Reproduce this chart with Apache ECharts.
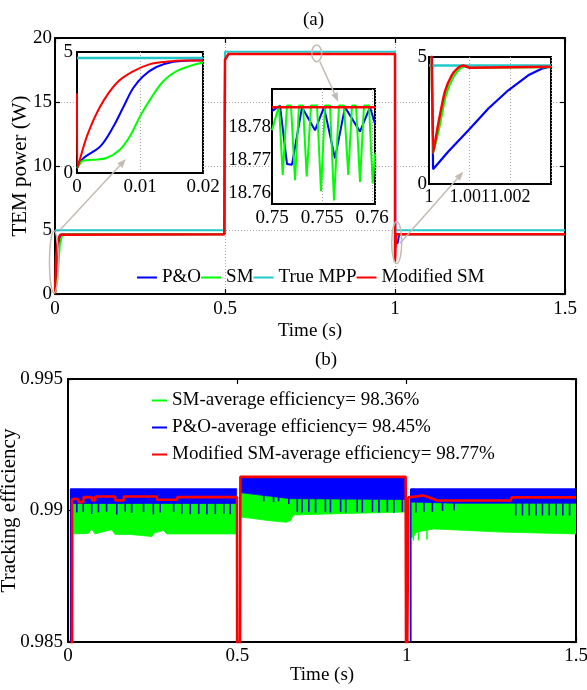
<!DOCTYPE html>
<html><head><meta charset="utf-8">
<script src="https://cdn.jsdelivr.net/npm/echarts@6/dist/echarts.min.js"></script>
<style>html,body{margin:0;padding:0;background:#fff}#c{width:587px;height:690px}</style>
</head><body><div id="c"></div><script>
// ---------------- DATA ----------------
// (a) main plot  [time s, power W]
const legendA = ['P&O', 'SM', 'True MPP', 'Modified SM'];
const mainPO  = [[0,0],[0.006,2.5],[0.012,4.3],[0.02,4.66],[0.498,4.66],[0.5,18.3],[0.51,18.75],[1.0,18.75],[1.001,3.9],[1.008,4.0],[1.012,4.66],[1.5,4.66]];
const mainSM  = [[0,0],[0.008,1.5],[0.014,3.8],[0.02,4.5],[0.025,4.66],[0.498,4.66],[0.5,18.3],[0.51,18.75],[1.0,18.75],[1.0,4.66],[1.5,4.66]];
const mainMPP = [[0,4.98],[0.5,4.98],[0.5,18.93],[1,18.93],[1,4.98],[1.5,4.98]];
const mainMSM = [[0,0],[0.003,2.8],[0.008,4.2],[0.015,4.62],[0.02,4.66],[0.498,4.66],[0.5,18.3],[0.51,18.75],[1.0,18.75],[1.0,2.5],[1.003,4.66],[1.5,4.66]];
// inset 1 (0 - 0.02 s)
const in1PO  = [[0,0.2],[0.00105,0.62],[0.0037,1.1],[0.0058,1.93],[0.0074,2.75],[0.0089,3.5],[0.0105,4.0],[0.0126,4.38],[0.0153,4.6],[0.0179,4.65],[0.02,4.66]];
const in1SM  = [[0,0.2],[0.00105,0.52],[0.0026,0.55],[0.0047,0.62],[0.0068,0.96],[0.0084,1.52],[0.01,2.34],[0.0116,3.03],[0.0137,3.79],[0.0163,4.27],[0.02,4.57]];
const in1MPP = [[0,4.75],[0.02,4.75]];
const in1MSM = [[0,3.3],[0.00008,0.2],[0.00158,1.52],[0.00368,2.75],[0.0063,3.72],[0.0089,4.2],[0.0116,4.5],[0.0142,4.6],[0.0168,4.65],[0.02,4.65]];
// inset 2 (0.75 - 0.76 s)
const in2PO  = [[0.75,18.7848],[0.7508,18.7865],[0.7515,18.7688],[0.752,18.7686],[0.753,18.786],[0.7543,18.779],[0.7552,18.786],[0.7563,18.7705],[0.7573,18.786],[0.7588,18.7786],[0.7598,18.786],[0.7603,18.781]];
const in2SM  = [[0.75,18.779],[0.7507,18.7865],[0.75107,18.7655],[0.7515,18.7865],[0.7519,18.7865],[0.7523,18.7639],[0.7527,18.7865],[0.7531,18.7865],[0.75347,18.765],[0.7539,18.7865],[0.7545,18.7865],[0.7549,18.7606],[0.7553,18.7865],[0.7558,18.7865],[0.7562,18.7578],[0.7567,18.7865],[0.7572,18.7865],[0.75763,18.7655],[0.758,18.7865],[0.7584,18.7865],[0.7588,18.7634],[0.7592,18.7865],[0.7597,18.7865],[0.76007,18.7629],[0.7603,18.772]];
const in2MSM = [[0.75,18.786],[0.7603,18.786]];
const in2XTicks = [0.75, 0.755, 0.76];
const in2YTicks = [18.76, 18.77, 18.78];
// inset 3 (1 - 1.003 s)
const in3PO  = [[1.0,18.79],[1.0001,0.58],[1.00047,1.27],[1.00097,2.12],[1.00146,2.97],[1.00195,3.69],[1.00244,4.28],[1.00277,4.54],[1.003,4.63]];
const in3SM  = [[1.0,18.79],[1.0001,1.2],[1.00026,2.25],[1.00042,3.5],[1.0006,4.2],[1.00077,4.55],[1.0009,4.64],[1.0011,4.58],[1.003,4.6]];
const in3MPP = [[1.0,4.67],[1.003,4.67]];
const in3MSM = [[1.0,18.79],[1.0001,1.2],[1.00023,2.38],[1.00039,3.63],[1.00056,4.28],[1.00072,4.58],[1.00084,4.67],[1.001,4.58],[1.002,4.6],[1.003,4.62]];
const in3XTicks = [1, 1.001, 1.002];

// (b) tracking efficiency
const legendB = ['SM-average efficiency= 98.36%', 'P&O-average efficiency= 98.45%', 'Modified SM-average efficiency= 98.77%'];
const effMSM = [[0,0.98],[0.011,0.98],[0.012,0.99044],[0.03,0.99044],[0.031,0.99032],[0.045,0.99032],[0.046,0.99051],[0.07,0.99051],[0.071,0.99038],[0.08,0.99038],[0.081,0.99053],[0.139,0.99053],[0.14,0.99038],[0.164,0.99038],[0.165,0.99053],[0.262,0.99053],[0.263,0.99041],[0.322,0.99041],[0.323,0.99051],[0.499,0.99051],[0.5,0.98],[0.507,0.98],[0.509,0.99128],[0.997,0.99128],[0.999,0.98],[1.003,0.98],[1.005,0.9905],[1.05,0.99057],[1.09,0.99038],[1.308,0.99038],[1.31,0.9905],[1.5,0.9905]];
// band envelopes, one list per segment
const smUpper = [
  [[0.014,0.9903],[0.497,0.9903]],
  [[0.51,0.99068],[0.657,0.99045],[0.997,0.99042]],
  [[1.012,0.9903],[1.5,0.9903]]
];
const smLower = [
  [[0.014,0.98911],[0.06,0.98913],[0.07,0.9893],[0.08,0.98911],[0.129,0.98927],[0.139,0.98909],[0.183,0.98909],[0.248,0.98901],[0.254,0.98914],[0.282,0.98924],[0.292,0.98911],[0.497,0.98911]],
  [[0.51,0.98975],[0.53,0.98972],[0.59,0.98962],[0.645,0.98955],[0.657,0.98962],[0.665,0.98983],[0.8,0.98988],[0.997,0.98994]],
  [[1.012,0.98898],[1.017,0.98898],[1.03,0.98918],[1.081,0.9893],[1.18,0.98924],[1.278,0.98918],[1.5,0.98911]]
];
const poUpper = [
  [[0.008,0.99083],[0.498,0.99083]],
  [[0.509,0.99128],[0.997,0.99128]],
  [[1.013,0.99083],[1.5,0.99083]]
];
const poLower = [
  [[0.008,0.99027],[0.498,0.99027]],
  [[0.509,0.99068],[0.657,0.99045],[0.997,0.99042]],
  [[1.013,0.99032],[1.14,0.99028],[1.5,0.99028]]
];
// vertical strokes [time, bottom, top]
const poSpikes = [
  [0.026,0.98992,0.9903],[0.045,0.98995,0.9903],[0.070,0.98987,0.9903],[0.090,0.98993,0.9903],[0.114,0.98996,0.9903],[0.144,0.98985,0.9903],[0.169,0.98996,0.9903],[0.188,0.98991,0.9903],[0.223,0.98994,0.9903],[0.252,0.98985,0.9903],[0.272,0.98992,0.9903],[0.312,0.98995,0.9903],[0.336,0.98988,0.9903],[0.361,0.98986,0.9903],[0.386,0.98987,0.9903],[0.410,0.98986,0.9903],[0.435,0.98986,0.9903],[0.460,0.98988,0.9903],[0.479,0.98986,0.9903],
  [0.578,0.99035,0.9906],[0.607,0.99032,0.9906],[0.622,0.99035,0.9906],[0.652,0.99025,0.9905],[0.677,0.98995,0.99043],[0.691,0.98992,0.99043],[0.711,0.98995,0.99043],[0.731,0.98992,0.99043],[0.760,0.98995,0.99043],[0.775,0.98992,0.99043],[0.805,0.98995,0.99043],[0.820,0.98992,0.99043],[0.854,0.98995,0.99043],[0.869,0.98992,0.99043],[0.899,0.98995,0.99043],[0.918,0.98992,0.99043],[0.943,0.98995,0.99043],[0.962,0.98992,0.99043],[0.987,0.98995,0.99043],
  [1.027,0.98992,0.9903],[1.051,0.98995,0.9903],[1.076,0.98995,0.9903],[1.106,0.98998,0.9903],[1.140,0.99,0.9903],[1.322,0.98981,0.9903],[1.342,0.98981,0.9903],[1.362,0.98981,0.9903],[1.382,0.98981,0.9903],[1.401,0.98981,0.9903],[1.421,0.98981,0.9903],[1.441,0.98981,0.9903],[1.461,0.98981,0.9903],[1.481,0.98981,0.9903]
];
const poEdges = [[0.008,0.98,0.99083],[1.012,0.98,0.99083]];
const smSpikes = [[1.02,0.98886,0.9895],[1.035,0.98886,0.9895],[1.06,0.9889,0.9895]];
const smEdges = [[0.014,0.98,0.9903],[1.011,0.98,0.9903]];

// annotation anchors in (a) data units
const notes = [
  {center:[-0.003,2.5], rx:4.5, ry:31, from:[0.0147,5.0], to:[0.2088,10.55]},
  {center:[0.7697,18.8], rx:5, ry:8.3, from:[0.779,18.15], to:[0.833,15.02]},
  {center:[1.005,4.02], rx:5, ry:21, from:[1.0147,3.96], to:[1.201,9.55]}
];

// ---------------- STYLE ----------------
const FONT = '"Liberation Serif", "Times New Roman", serif';
const BLUE = '#0000ff', GREEN = '#00ff00', CYAN = '#22c8c8', RED = '#ff0000', ARROW = '#c4bcb4';
const txt = {fontFamily: FONT, fontSize: 19, color: '#000'};
const nameTxt = {fontFamily: FONT, fontSize: 21, color: '#000'};
const dotted = {show: true, lineStyle: {color: '#aaaaaa', type: [1, 2], width: 1}};

function ax(o) {
  const base = {
    type: 'value',
    nameMoveOverlap: false,
    axisLine: {show: true, onZero: false, lineStyle: {color: '#000', width: 2}},
    axisTick: {show: true, inside: true, length: 5, lineStyle: {color: '#000', width: 1.2}},
    splitLine: {show: false}
  };
  const r = Object.assign(base, o);
  r.axisLabel = Object.assign({hideOverlap: false}, txt, o.axisLabel || {});
  return r;
}

const xAxes = [
  ax({gridIndex:0, min:0, max:1.5, interval:0.5, splitLine:dotted, name:'Time (s)', nameLocation:'middle', nameGap:28, nameTextStyle:txt, axisLabel:{margin:6}}),
  ax({gridIndex:0, position:'top', min:0, max:1.5, interval:0.5, axisLabel:{show:false}}),
  ax({gridIndex:1, min:0, max:1.5, interval:0.5, name:'Time (s)', nameLocation:'middle', nameGap:24, nameTextStyle:txt, axisLabel:{margin:5}}),
  ax({gridIndex:1, position:'top', min:0, max:1.5, interval:0.5, axisLabel:{show:false}}),
  ax({gridIndex:2, min:0, max:0.02, interval:0.01, z:11, splitLine:dotted, axisTick:{show:false}, axisLabel:{margin:5}}),
  ax({gridIndex:3, min:0.75, max:0.7603, interval:0.005, z:11, splitLine:dotted, axisTick:{show:false}, axisLabel:{margin:5, customValues:in2XTicks}}),
  ax({gridIndex:4, min:1, max:1.003, interval:0.001, z:11, splitLine:dotted, axisTick:{show:false}, axisLabel:{margin:4, fontSize:18, customValues:in3XTicks}})
];
const yAxes = [
  ax({gridIndex:0, min:0, max:20, interval:5, splitLine:dotted, name:'TEM power (W)', nameLocation:'middle', nameGap:24, nameTextStyle:nameTxt, axisLabel:{margin:3}}),
  ax({gridIndex:0, position:'right', min:0, max:20, interval:5, axisLabel:{show:false}}),
  ax({gridIndex:1, min:0.985, max:0.995, interval:0.005, name:'Tracking efficiency', nameLocation:'middle', nameGap:48, nameTextStyle:nameTxt, axisLabel:{margin:5}}),
  ax({gridIndex:1, position:'right', min:0.985, max:0.995, interval:0.005, axisLabel:{show:false}}),
  ax({gridIndex:2, min:0, max:5, interval:5, z:11, axisTick:{show:false}, axisLabel:{margin:4}}),
  ax({gridIndex:3, min:18.7567, max:18.7915, z:11, axisTick:{show:false}, axisLabel:{margin:1, customValues:in2YTicks}}),
  ax({gridIndex:4, min:0, max:5, interval:5, z:11, axisTick:{show:false}, axisLabel:{margin:2}})
];

function line(name, data, color, xi, yi, w, z, smooth) {
  return {type:'line', name, data, xAxisIndex:xi, yAxisIndex:yi, showSymbol:false, symbol:'none',
    smooth: smooth || false, lineStyle:{color, width:w}, itemStyle:{color}, z: z || 2, silent:true};
}
function band(name, uppers, lowers, color) {
  return {type:'custom', name, xAxisIndex:2, yAxisIndex:2, clip:true, silent:true, itemStyle:{color},
    data: uppers.map((u, i) => [u[0][0], u[0][1], i]),
    encode:{x:0, y:1},
    renderItem: function (params, api) {
      const i = api.value(2);
      const pts = uppers[i].map(p => api.coord(p)).concat(lowers[i].slice().reverse().map(p => api.coord(p)));
      return {type:'polygon', shape:{points:pts}, style:{fill:color, stroke:color, lineWidth:0.8}};
    }};
}
function strokes(name, data, color, w) {
  return {type:'custom', name, xAxisIndex:2, yAxisIndex:2, clip:true, silent:true, itemStyle:{color},
    data, encode:{x:0, y:[1, 2]},
    renderItem: function (params, api) {
      const a = api.coord([api.value(0), api.value(1)]);
      const b = api.coord([api.value(0), api.value(2)]);
      return {type:'line', shape:{x1:a[0], y1:a[1], x2:b[0], y2:b[1]}, style:{stroke:color, lineWidth:w}};
    }};
}

const gridBase = {containLabel:false, outerBoundsMode:'none'};
const insetGrid = Object.assign({show:true, backgroundColor:'#fff', borderColor:'#000', borderWidth:2, z:10}, gridBase);
const option = {
  animation: false,
  title: [
    {text:'(a)', left:298, top:6, textStyle:Object.assign({fontWeight:'normal'}, txt)},
    {text:'(b)', left:310, top:346, textStyle:Object.assign({fontWeight:'normal'}, txt)}
  ],
  grid: [
    Object.assign({left:55, top:38, width:510, height:256}, gridBase),
    Object.assign({left:68, top:379, width:508, height:263}, gridBase),
    Object.assign({left:77, top:52, width:126, height:121}, insetGrid),
    Object.assign({left:272, top:89, width:103, height:115}, insetGrid),
    Object.assign({left:429, top:57, width:122, height:127}, insetGrid)
  ],
  xAxis: xAxes,
  yAxis: yAxes,
  legend: [
    {data:legendA, left:137, top:268, orient:'horizontal', itemGap:0, itemWidth:20, itemHeight:2, icon:'rect',
     selectedMode:false, textStyle:txt, padding:0},
    {data:legendB, left:152, top:391, orient:'vertical', itemGap:8, itemWidth:15, itemHeight:2, icon:'rect',
     selectedMode:false, textStyle:txt, padding:0}
  ],
  series: [
    line('P&O', mainPO, BLUE, 0, 0, 2),
    line('SM', mainSM, GREEN, 0, 0, 2),
    line('True MPP', mainMPP, CYAN, 0, 0, 2),
    line('Modified SM', mainMSM, RED, 0, 0, 2.5),
    line('P&O', in1PO, BLUE, 4, 4, 2, 12, 0.35),
    line('SM', in1SM, GREEN, 4, 4, 2, 12, 0.35),
    line('True MPP', in1MPP, CYAN, 4, 4, 2.5, 12),
    line('Modified SM', in1MSM, RED, 4, 4, 2, 12, 0.35),
    line('P&O', in2PO, BLUE, 5, 5, 2, 12),
    line('SM', in2SM, GREEN, 5, 5, 2, 12),
    line('Modified SM', in2MSM, RED, 5, 5, 2.5, 12),
    line('P&O', in3PO, BLUE, 6, 6, 2.2, 12),
    line('SM', in3SM, GREEN, 6, 6, 2, 12, 0.2),
    line('True MPP', in3MPP, CYAN, 6, 6, 2.5, 12),
    line('Modified SM', in3MSM, RED, 6, 6, 2.5, 12, 0.2),
    band(legendB[0], smUpper, smLower, GREEN),
    strokes(legendB[0], smSpikes.concat(smEdges), GREEN, 1.5),
    band(legendB[1], poUpper, poLower, BLUE),
    strokes(legendB[1], poSpikes.concat(poEdges), BLUE, 1.6),
    line(legendB[2], effMSM, RED, 2, 2, 2.6, 5)
  ]
};

const chart = echarts.init(document.getElementById('c'));
chart.setOption(option);

const g = [];
const finder = {xAxisIndex:0, yAxisIndex:0};
notes.forEach(a => {
  const c = chart.convertToPixel(finder, a.center);
  g.push({type:'ellipse', shape:{cx:c[0], cy:c[1], rx:a.rx, ry:a.ry}, style:{fill:null, stroke:ARROW, lineWidth:1.5}, z:30, silent:true});
  const p1 = chart.convertToPixel(finder, a.from), p2 = chart.convertToPixel(finder, a.to);
  const ang = Math.atan2(p2[1] - p1[1], p2[0] - p1[0]);
  const L = 9, W = 3.5;
  const bx = p2[0] - L * Math.cos(ang), by = p2[1] - L * Math.sin(ang);
  g.push({type:'line', shape:{x1:p1[0], y1:p1[1], x2:bx, y2:by}, style:{stroke:ARROW, lineWidth:1.5}, z:30, silent:true});
  g.push({type:'polygon', shape:{points:[[p2[0], p2[1]], [bx - W * Math.sin(ang), by + W * Math.cos(ang)], [bx + W * Math.sin(ang), by - W * Math.cos(ang)]]},
    style:{fill:ARROW}, z:30, silent:true});
});
chart.setOption({graphic: g});
</script></body></html>
